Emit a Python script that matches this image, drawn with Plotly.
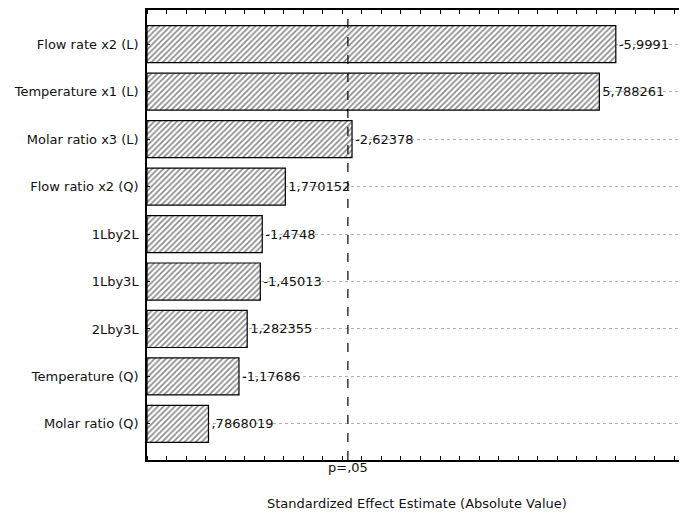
import plotly.graph_objects as go

factors = ["Flow rate x2 (L)", "Temperature x1 (L)", "Molar ratio x3 (L)",
           "Flow ratio x2 (Q)", "1Lby2L", "1Lby3L", "2Lby3L",
           "Temperature (Q)", "Molar ratio (Q)"]
effects = [-5.9991, 5.788261, -2.62378, 1.770152, -1.4748, -1.45013,
           1.282355, -1.17686, 0.7868019]
labels = ["-5,9991", "5,788261", "-2,62378", "1,770152", "-1,4748",
          "-1,45013", "1,282355", "-1,17686", ",7868019"]
p_crit = 2.5706
p_label = "p=,05"
x_title = "Standardized Effect Estimate (Absolute Value)"

abs_eff = [abs(v) for v in effects]
pos = list(range(len(factors)))

font = "DejaVu Sans, Liberation Sans, Arial, sans-serif"
fs = 13

fig = go.Figure()
fig.add_trace(go.Bar(
    x=abs_eff, y=pos, orientation="h", width=0.78,
    text=labels, textposition="outside", cliponaxis=False,
    textfont=dict(family=font, size=fs, color="#111111"),
    marker=dict(color="white", line=dict(color="black", width=1.2),
                pattern=dict(shape="/", size=4, solidity=0.4,
                             fgcolor="#111111", bgcolor="white")),
    showlegend=False,
))

fig.add_shape(type="line", x0=p_crit, x1=p_crit, y0=0, y1=1,
              xref="x", yref="paper",
              line=dict(color="black", width=1.2, dash="dash"))

fig.add_annotation(text=p_label, xref="x", yref="paper", x=p_crit, y=0,
                   yshift=-7, yanchor="middle", showarrow=False,
                   font=dict(family=font, size=fs, color="#111111"))
fig.add_annotation(text=x_title, xref="paper", yref="paper", x=0.5, y=0,
                   yshift=-43, yanchor="middle", showarrow=False,
                   font=dict(family=font, size=fs, color="#111111"))

# page body has an 8px margin; size the figure so the plot lands in place
fig.update_layout(
    width=679, height=507,
    margin=dict(l=139, r=0, t=2, b=55),
    paper_bgcolor="white", plot_bgcolor="white",
    font=dict(family=font, size=fs, color="#111111"),
)
fig.update_xaxes(
    range=[0, 6.91], tickmode="array", tickvals=[p_crit], ticktext=[""],
    ticks="", showgrid=False, zeroline=False, automargin=False,
    showline=True, linecolor="black", linewidth=1.5, mirror="ticks",
    minor=dict(tickmode="linear", tick0=0, dtick=0.25, ticks="inside",
               ticklen=4, tickcolor="black", showgrid=False),
    tickfont=dict(size=fs),
)
fig.update_yaxes(
    range=[8.76, -0.72], tickmode="array", tickvals=pos, ticktext=factors,
    ticks="inside", ticklen=3, tickcolor="black", automargin=False,
    showgrid=True, gridcolor="#b0b0b0", griddash="dot", gridwidth=1,
    zeroline=False, showline=True, linecolor="black", linewidth=1.5,
    tickfont=dict(size=fs), ticklabelstandoff=4,
)

fig.write_html("out.html")
